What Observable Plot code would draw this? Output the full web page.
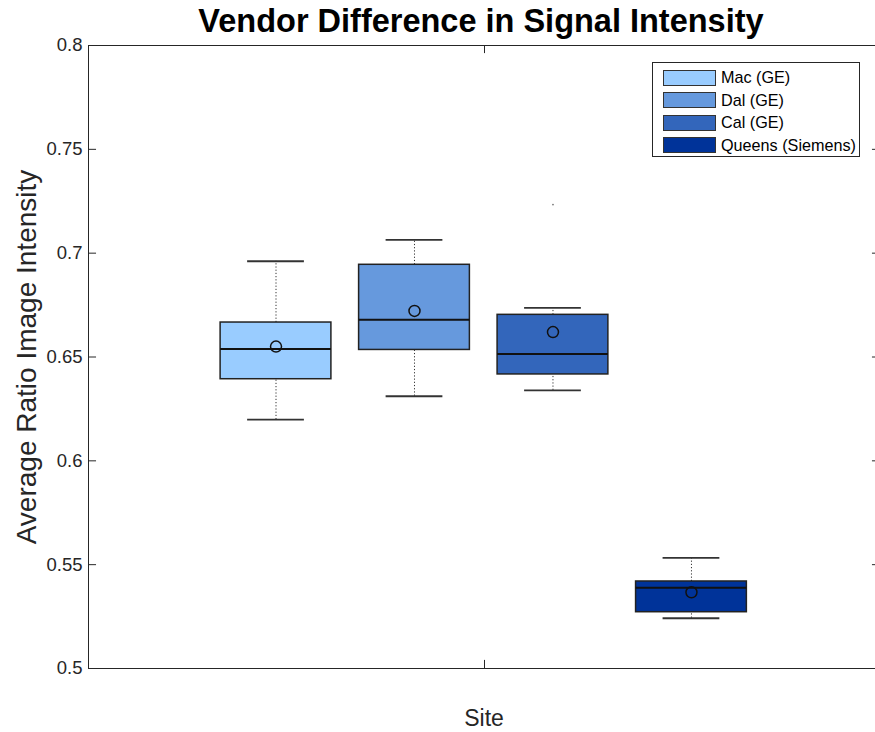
<!DOCTYPE html>
<html><head><meta charset="utf-8">
<script src="https://cdn.jsdelivr.net/npm/d3@7"></script>
<script src="https://cdn.jsdelivr.net/npm/@observablehq/plot@0.6"></script>
<style>
body{margin:0;background:#fff;font-family:"Liberation Sans",Arial,Helvetica,sans-serif;}
#wrap{position:relative;width:875px;height:732px;overflow:hidden;background:#fff;}
#wrap svg{position:absolute;left:0;top:0;}
.title{position:absolute;left:0;width:962px;top:5px;text-align:center;font-weight:bold;font-size:32.5px;line-height:32px;color:#000;white-space:nowrap;}
.ylab{position:absolute;left:27px;top:357px;transform:translate(-50%,-50%) rotate(-90deg);font-size:28px;line-height:28px;color:#262626;white-space:nowrap;}
.xlab{position:absolute;left:484px;top:707px;transform:translateX(-50%);font-size:23px;line-height:23px;color:#262626;white-space:nowrap;}
.legend{position:absolute;left:652px;top:62px;width:208px;height:95px;border:1px solid #262626;background:#fff;box-sizing:border-box;}
.legend .row{position:absolute;left:10px;height:17px;display:flex;align-items:center;font-size:16.2px;color:#000;white-space:nowrap;}
.legend .sw{width:53px;height:16px;border:1px solid #333;box-sizing:border-box;margin-right:5px;}
</style></head><body><div id="wrap"></div>
<script>
const sites = ["Mac (GE)", "Dal (GE)", "Cal (GE)", "Queens (Siemens)"];
const colors = ["#99CCFF", "#6699DD", "#3366BB", "#003399"];
const whiskerLow = [0.6198, 0.6311, 0.6339, 0.5242];
const q1 = [0.6393, 0.6534, 0.6416, 0.5271];
const medians = [0.6539, 0.6679, 0.6515, 0.5389];
const q3 = [0.6666, 0.6944, 0.6703, 0.5419];
const whiskerHigh = [0.6961, 0.7064, 0.6737, 0.5533];
const means = [0.6550, 0.6722, 0.6620, 0.5367];
const outlierSites = ["Cal (GE)"];
const outlierValues = [0.7234];
const yTicks = [0.5, 0.55, 0.6, 0.65, 0.7, 0.75, 0.8];

const data = sites.map((s, i) => ({
  site: s, pos: i + 1, color: colors[i],
  lo: whiskerLow[i], q1: q1[i], med: medians[i], q3: q3[i], hi: whiskerHigh[i], mean: means[i]
}));
const outliers = outlierSites.map((s, i) => ({pos: sites.indexOf(s) + 1, value: outlierValues[i]}));

const xDomain = [-0.354, 5.365];
const yDomain = [0.5, 0.8];
const xMid = (xDomain[0] + xDomain[1]) / 2;
const boxHalf = 0.4, capHalf = 0.205;
const tickX = 0.058, tickY = 0.0039;

const chart = Plot.plot({
  width: 875, height: 732,
  marginLeft: 88, marginRight: -5, marginTop: 45, marginBottom: 64,
  x: {domain: xDomain, range: [88, 880], axis: null},
  y: {domain: yDomain, range: [668, 45], axis: null},
  color: {type: "identity"},
  style: {fontFamily: "'Liberation Sans', Arial, sans-serif", background: "#fff"},
  marks: [
    Plot.ruleX(data, {x: "pos", y1: "q3", y2: "hi", stroke: "#333", strokeWidth: 1, strokeDasharray: "1.2,2"}),
    Plot.ruleX(data, {x: "pos", y1: "lo", y2: "q1", stroke: "#333", strokeWidth: 1, strokeDasharray: "1.2,2"}),
    Plot.ruleY(data, {y: "hi", x1: d => d.pos - capHalf, x2: d => d.pos + capHalf, stroke: "#333", strokeWidth: 1.8}),
    Plot.ruleY(data, {y: "lo", x1: d => d.pos - capHalf, x2: d => d.pos + capHalf, stroke: "#333", strokeWidth: 1.8}),
    Plot.rect(data, {x1: d => d.pos - boxHalf, x2: d => d.pos + boxHalf, y1: "q1", y2: "q3", fill: "color", stroke: "#222", strokeWidth: 1.5}),
    Plot.ruleY(data, {y: "med", x1: d => d.pos - boxHalf, x2: d => d.pos + boxHalf, stroke: "#111", strokeWidth: 2}),
    Plot.dot(data, {x: "pos", y: "mean", r: 5.5, stroke: "#111", strokeWidth: 1.5, fill: "none"}),
    Plot.dot(outliers, {x: "pos", y: "value", r: 0.9, fill: "#777", stroke: "none"}),
    Plot.frame({stroke: "#262626", strokeWidth: 1}),
    Plot.ruleY(yTicks, {y: d => d, x1: xDomain[0], x2: xDomain[0] + tickX, stroke: "#262626"}),
    Plot.ruleY(yTicks, {y: d => d, x1: xDomain[1] - tickX, x2: xDomain[1], stroke: "#262626"}),
    Plot.ruleX([xMid], {x: d => d, y1: yDomain[1] - tickY, y2: yDomain[1], stroke: "#262626"}),
    Plot.ruleX([xMid], {x: d => d, y1: yDomain[0], y2: yDomain[0] + tickY, stroke: "#262626"}),
    Plot.axisY({ticks: yTicks, tickSize: 0, tickPadding: 6, tickFormat: d => String(+d.toFixed(2)), fontSize: 18.5, fill: "#262626", label: null})
  ]
});

const wrap = document.getElementById("wrap");
wrap.appendChild(chart);

const title = document.createElement("div");
title.className = "title";
title.textContent = "Vendor Difference in Signal Intensity";
wrap.appendChild(title);

const ylab = document.createElement("div");
ylab.className = "ylab";
ylab.textContent = "Average Ratio Image Intensity";
wrap.appendChild(ylab);

const xlab = document.createElement("div");
xlab.className = "xlab";
xlab.textContent = "Site";
wrap.appendChild(xlab);

const legend = document.createElement("div");
legend.className = "legend";
sites.forEach((s, i) => {
  const row = document.createElement("div");
  row.className = "row";
  row.style.top = (6 + i * 22.5) + "px";
  const sw = document.createElement("div");
  sw.className = "sw";
  sw.style.background = colors[i];
  const t = document.createElement("span");
  t.textContent = s;
  row.appendChild(sw);
  row.appendChild(t);
  legend.appendChild(row);
});
wrap.appendChild(legend);
</script>
</body></html>
